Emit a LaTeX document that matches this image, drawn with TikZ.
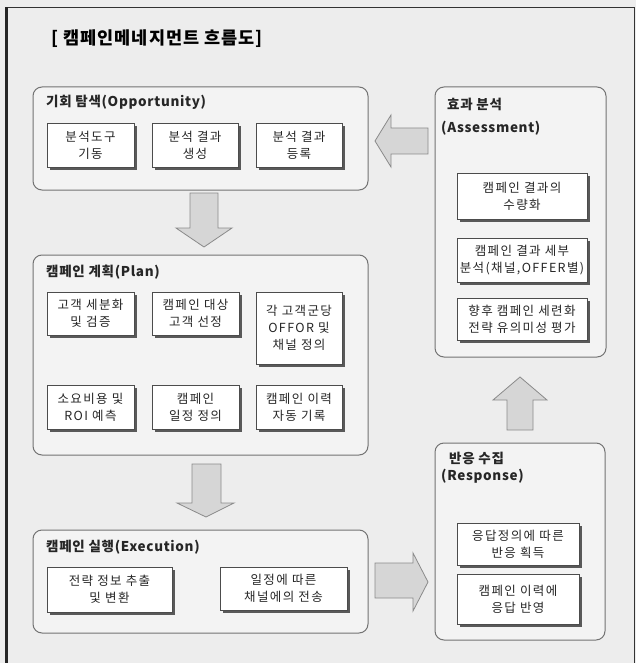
\documentclass[tikz,border=0pt]{standalone}
\usepackage{fontspec}
\setmainfont{Noto Sans CJK KR}
\usetikzlibrary{shadows}
\definecolor{bg}{HTML}{EDEDED}
\definecolor{grp}{HTML}{F3F3F3}
\definecolor{arrfill}{HTML}{D6D6D6}
\definecolor{arrline}{HTML}{8A8A8A}
\tikzset{
  grpbox/.style={draw=black!55, line width=1pt, fill=grp, rounded corners=9pt},
  sb/.style={draw=black!70, line width=0.8pt, fill=white, align=center,
    font=\fontsize{12.5}{17}\selectfont\addfontfeature{LetterSpace=11}, text=black!85, inner sep=0pt,
    drop shadow={shadow xshift=3pt, shadow yshift=-3pt, fill=black!65, opacity=1}},
  grptitle/.style={anchor=west, inner sep=0pt, font=\fontsize{13.5}{16}\selectfont\bfseries\addfontfeature{LetterSpace=5}, text=black!85},
  blockarrow/.style={draw=arrline, line width=0.8pt, fill=arrfill, line join=miter}
}
\begin{document}
\begin{tikzpicture}[x=1pt,y=-1pt]
\useasboundingbox (0,0) rectangle (636,663);
\fill[bg] (0,0) rectangle (636,663);
% frame
\draw[line width=1pt, black!80] (6,8) -- (634,8) -- (634,663);
\draw[line width=3pt, black!85] (6.5,7.5) -- (6.5,663);
% title
\node[anchor=west, inner sep=0pt, font=\fontsize{17.5}{20}\selectfont\bfseries\addfontfeature{LetterSpace=6}] (title) at (51,39) {[ 캠페인메네지먼트 흐름도]};

% group boxes
\draw[grpbox] (33,87) rectangle (368,190);
\draw[grpbox] (33,255) rectangle (368,455);
\draw[grpbox] (33,530) rectangle (368,633);
\draw[grpbox] (435,87) rectangle (606,357);
\draw[grpbox] (435,443) rectangle (605,640);

% group titles
\node[grptitle] (optitle) at (46,102) {기회 탐색(Opportunity)};
\node[grptitle] (pltitle) at (46,272) {캠페인 계획(Plan)};
\node[grptitle] (extitle) at (46,547) {캠페인 실행(Execution)};
\node[grptitle] (astitle) at (447,104) {효과 분석};
\node[grptitle] (astitle2) at (441,128) {(Assessment)};
\node[grptitle] (retitle) at (449,458) {반응 수집};
\node[grptitle] (retitle2) at (441,476) {(Response)};

% Opportunity
\node[sb, minimum width=87pt, minimum height=44pt] (o1) at (90.5,145) {분석도구\\기동};
\node[sb, minimum width=86pt, minimum height=44pt] (o2) at (195,145) {분석 결과\\생성};
\node[sb, minimum width=86pt, minimum height=44pt] (o3) at (299,145) {분석 결과\\등록};

% Plan
\node[sb, minimum width=87pt, minimum height=43pt] (p1) at (90.5,313.5) {고객 세분화\\및 검증};
\node[sb, minimum width=87pt, minimum height=43pt] (p2) at (195.5,313.5) {캠페인 대상\\고객 선정};
\node[sb, minimum width=86pt, minimum height=72pt] (p3) at (299,328) {각 고객군당\\OFFOR 및\\채널 정의};
\node[sb, minimum width=87pt, minimum height=44pt] (p4) at (90.5,407) {소요비용 및\\ROI 예측};
\node[sb, minimum width=87pt, minimum height=44pt] (p5) at (195.5,407) {캠페인\\일정 정의};
\node[sb, minimum width=86pt, minimum height=44pt] (p6) at (299,407) {캠페인 이력\\자동 기록};

% Execution
\node[sb, minimum width=125pt, minimum height=45pt] (e1) at (109.5,589.5) {전략 정보 추출\\및 변환};
\node[sb, minimum width=127pt, minimum height=43pt] (e2) at (283.5,588.5) {일정에 따른\\채널에의 전송};

% Response
\node[sb, minimum width=122pt, minimum height=42pt] (r1) at (518,544) {응답정의에 따른\\반응 획득};
\node[sb, minimum width=122pt, minimum height=50pt] (r2) at (518,599) {캠페인 이력에\\응답 반영};

% Assessment
\node[sb, minimum width=130pt, minimum height=46pt] (a1) at (522,196) {캠페인 결과의\\수량화};
\node[sb, minimum width=130pt, minimum height=44pt] (a2) at (522,260) {캠페인 결과 세부\\분석(채널,OFFER별)};
\node[sb, minimum width=130pt, minimum height=42pt] (a3) at (522,319) {향후 캠페인 세련화\\전략 유의미성 평가};

% block arrows
% Opportunity -> Plan
\draw[blockarrow] (190,193) -- (218,193) -- (218,228) -- (232,228) -- (204,247) -- (176,228) -- (190,228) -- cycle;
% Plan -> Execution
\draw[blockarrow] (192,464) -- (221,464) -- (221,503) -- (234,503) -- (206,517) -- (177,503) -- (192,503) -- cycle;
% Execution -> Response
\draw[blockarrow] (375,563) -- (413,563) -- (413,553) -- (428,582) -- (413,611) -- (413,598) -- (375,598) -- cycle;
% Response -> Assessment
\draw[blockarrow] (507,430) -- (507,400) -- (493,400) -- (520,377) -- (547,400) -- (533,400) -- (533,430) -- cycle;
% Assessment -> Opportunity
\draw[blockarrow] (428,128) -- (391,128) -- (391,115) -- (375,141) -- (391,167) -- (391,154) -- (428,154) -- cycle;
\end{tikzpicture}
\end{document}
